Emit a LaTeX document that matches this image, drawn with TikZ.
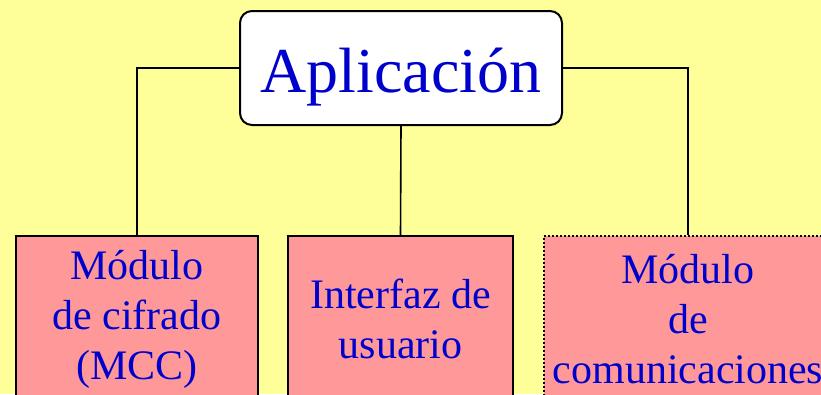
\documentclass[tikz,border=0pt]{standalone}
\usepackage{fontspec}
\setmainfont{Liberation Serif}

\definecolor{fondo}{HTML}{FFFF99}
\definecolor{rosa}{HTML}{FF9999}
\definecolor{azul}{HTML}{0000CC}

\tikzset{raiz/.style = {draw, fill=white, line width=2pt, rounded corners=12pt,
                        minimum width=322pt, minimum height=114pt, inner sep=0pt,
                        text=azul, font=\fontsize{64}{70}\selectfont,
                        text height=48pt, text depth=0pt},
         modulo/.style = {draw, fill=rosa, line width=2pt, inner sep=0pt,
                          minimum width=#1, minimum height=166pt,
                          text=azul, align=center, font=\fontsize{42}{50}\selectfont},
         modulo/.default=242pt,
         enlace/.style = {line width=1.6pt}
        }

\begin{document}
\begin{tikzpicture}[x=1pt,y=-1pt]
  \useasboundingbox (0,0) rectangle (821,394);
  \clip (0,0) rectangle (821,394);
  \fill[fondo] (0,0) rectangle (821,394);

  \node[raiz] (app) at (401,68) {Aplicación};

  \node[modulo] (mcc) at (137,319) {Módulo\\de cifrado\\(MCC)};
  \node[modulo=225pt] (iu) at (400.5,319) {Interfaz de\ \\usuario};
  \node[modulo=288pt, dash pattern=on 2pt off 2pt] (com) at (688,319)
       {Módulo\\de\\comunicaciones};

  \draw[enlace] (app.west) -| (mcc.north);
  \draw[enlace] (app.south) -- (iu.north);
  \draw[enlace] (app.east) -| (com.north);
\end{tikzpicture}
\end{document}
